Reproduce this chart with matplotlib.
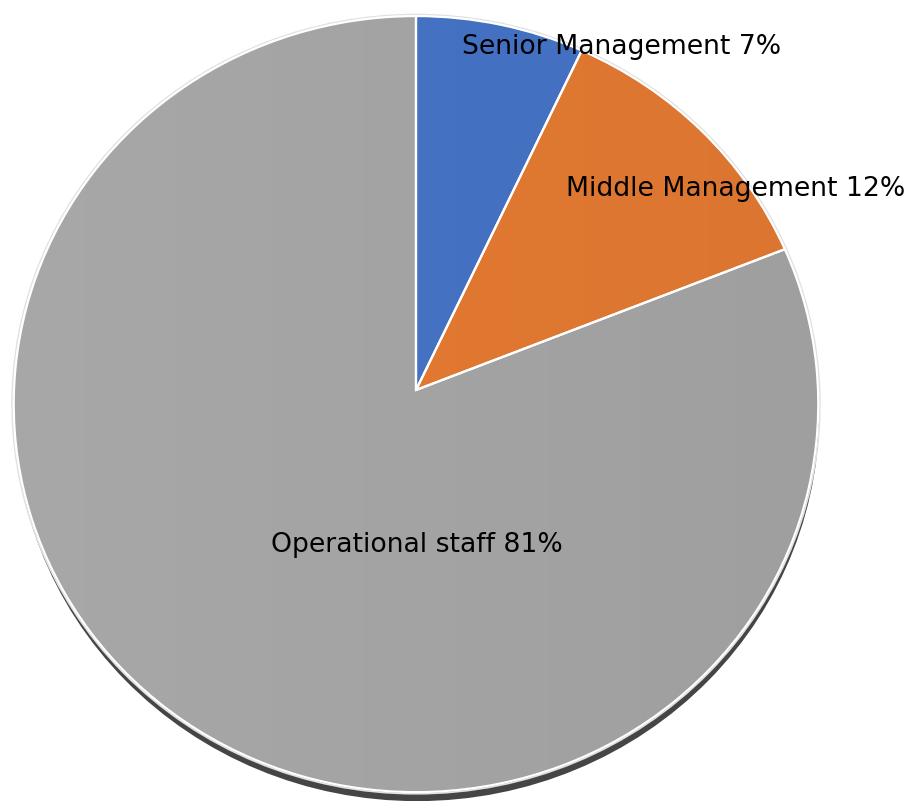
import numpy as np
import matplotlib
matplotlib.use("Agg")
import matplotlib.pyplot as plt
import matplotlib.transforms as mtransforms
from matplotlib.colors import to_rgb

# staff structure
groups = ["Senior Management", "Middle Management", "Operational staff"]
shares = [7, 12, 81]
colors = ["#4471C2", "#E07831", "#A3A3A3"]

# label anchor points (pixel space of the figure)
label_xy = [(622, 47), (736, 189), (417, 545)]

W, H = 913, 801
CX, CY, R = 416, 390, 402


class Tilt(mtransforms.Transform):
    """Unit circle -> pixel coords, pie tipped back a little with perspective."""
    input_dims = 2
    output_dims = 2

    def __init__(self, sin_t=0.265, cos_t=0.964, focal=7.3):
        super().__init__()
        self.s, self.c, self.f = sin_t, cos_t, focal

    def transform_non_affine(self, xy):
        xy = np.asarray(xy, dtype=float)
        x, y = xy[:, 0], xy[:, 1]
        k = self.f / (self.f + y * self.s)
        return np.column_stack([CX + R * x * k, CY - R * y * self.c * k])


fig = plt.figure(figsize=(W / 100, H / 100), dpi=100)
ax = fig.add_axes([0, 0, 1, 1])

wedges, _ = ax.pie(shares, colors=colors, startangle=90, counterclock=False,
                   radius=1, wedgeprops=dict(edgecolor="white", linewidth=1.6))

tilt = Tilt()
for w, col in zip(wedges, colors):
    w.set_transform(tilt + ax.transData)
    w.set_zorder(4)
    w.set_facecolor("none")
    # soft left-to-right shading inside each slice
    base = np.array(to_rgb(col))
    t = np.linspace(0, 1, 256)[None, :, None]
    grad = np.clip(base * (1.03 - 0.06 * t), 0, 1)
    grad = np.repeat(grad, 2, axis=0)
    im = ax.imshow(grad, extent=(0, W, H, 0), aspect="auto", zorder=3,
                   interpolation="bilinear")
    im.set_clip_path(w)

ax.set_xlim(0, W)
ax.set_ylim(H, 0)
ax.set_aspect("auto")
ax.axis("off")

# drop shadow under the disc
shadow = matplotlib.patches.Circle((0, 0), 1, facecolor="#454545", edgecolor="none",
                                   zorder=1)
ax.add_patch(shadow)
shadow.set_transform(tilt + ax.transData + mtransforms.Affine2D().translate(1, -9))

# thin light rim
rim = matplotlib.patches.Circle((0, 0), 1.004, facecolor="none", edgecolor="#e0e0e0",
                                linewidth=1.2, zorder=2)
ax.add_patch(rim)
rim.set_transform(tilt + ax.transData)

for name, val, (tx, ty) in zip(groups, shares, label_xy):
    ax.text(tx, ty, f"{name} {val}%", ha="center", va="center",
            fontsize=19.2, color="black", zorder=5)

fig.savefig("out.png", dpi=100, facecolor="white")
